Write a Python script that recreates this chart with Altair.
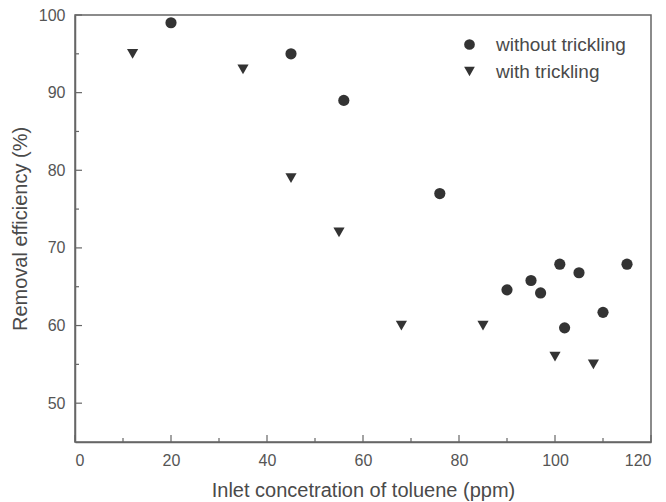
import altair as alt
import pandas as pd

# without trickling
x_without = [20, 45, 56, 76, 90, 95, 97, 101, 102, 105, 110, 115]
y_without = [99, 95, 89, 77, 64.6, 65.8, 64.2, 67.9, 59.7, 66.8, 61.7, 67.9]
# with trickling
x_with = [12, 35, 45, 55, 68, 85, 100, 108]
y_with = [95, 93, 79, 72, 60, 60, 56, 55]

series_names = ["without trickling", "with trickling"]

x_major = [0, 20, 40, 60, 80, 100, 120]
x_minor = [10, 30, 50, 70, 90, 110]
y_major = [50, 60, 70, 80, 90, 100]
y_minor = [55, 65, 75, 85, 95]

df = pd.DataFrame({
    "x": x_without + x_with,
    "y": y_without + y_with,
    "series": [series_names[0]] * len(x_without) + [series_names[1]] * len(x_with),
})

W, H = 576, 427
grey = "#666666"
text_col = "#4a4a4a"
label_col = "#555555"
font = "Liberation Sans"

xs = alt.Scale(domain=[0, 120], nice=False, zero=False)
ys = alt.Scale(domain=[45, 100], nice=False, zero=False)

axis_style = dict(tickSize=0, grid=False, labelFont=font, labelFontSize=16, labelColor=label_col,
                  titleFont=font, titleFontSize=20, titleColor=text_col, titleFontWeight="normal",
                  domainColor=grey, domainWidth=1.5)

points = alt.Chart(df).mark_point(filled=True, opacity=1, size=125, color="#333333").encode(
    x=alt.X("x:Q", scale=xs, title="Inlet concetration of toluene (ppm)",
            axis=alt.Axis(values=x_major, labelPadding=10, titlePadding=12, **axis_style)),
    y=alt.Y("y:Q", scale=ys, title="Removal efficiency (%)",
            axis=alt.Axis(values=y_major, labelPadding=10, titlePadding=8, **axis_style)),
    shape=alt.Shape("series:N", scale=alt.Scale(domain=series_names, range=["circle", "triangle-down"]),
                    legend=alt.Legend(title=None, orient="none", legendX=385, legendY=20,
                                      symbolFillColor="#333333", symbolStrokeColor="#333333",
                                      symbolSize=115, labelFontSize=19, labelColor=text_col,
                                      labelFont=font, rowPadding=7, symbolOffset=0,
                                      labelOffset=17)),
)

def xticks(vals, length):
    return alt.Chart(pd.DataFrame({"x": vals})).mark_rule(color=grey, strokeWidth=1.2).encode(
        x=alt.X("x:Q", scale=xs), y=alt.value(H), y2=alt.value(H - length))

def yticks(vals, length):
    return alt.Chart(pd.DataFrame({"y": vals})).mark_rule(color=grey, strokeWidth=1.2).encode(
        y=alt.Y("y:Q", scale=ys), x=alt.value(0), x2=alt.value(length))

chart = alt.layer(
    xticks(x_major, 7), xticks(x_minor, 4), yticks(y_major, 7), yticks(y_minor, 4), points
).properties(
    width=W, height=H,
    autosize=alt.AutoSizeParams(type="none"),
    padding={"left": 67, "top": 7, "right": 7, "bottom": 60},
    background="white",
).configure_view(
    stroke=grey, strokeWidth=1.5
)

chart.save("out.html", embed_options={"renderer": "svg", "actions": False})
